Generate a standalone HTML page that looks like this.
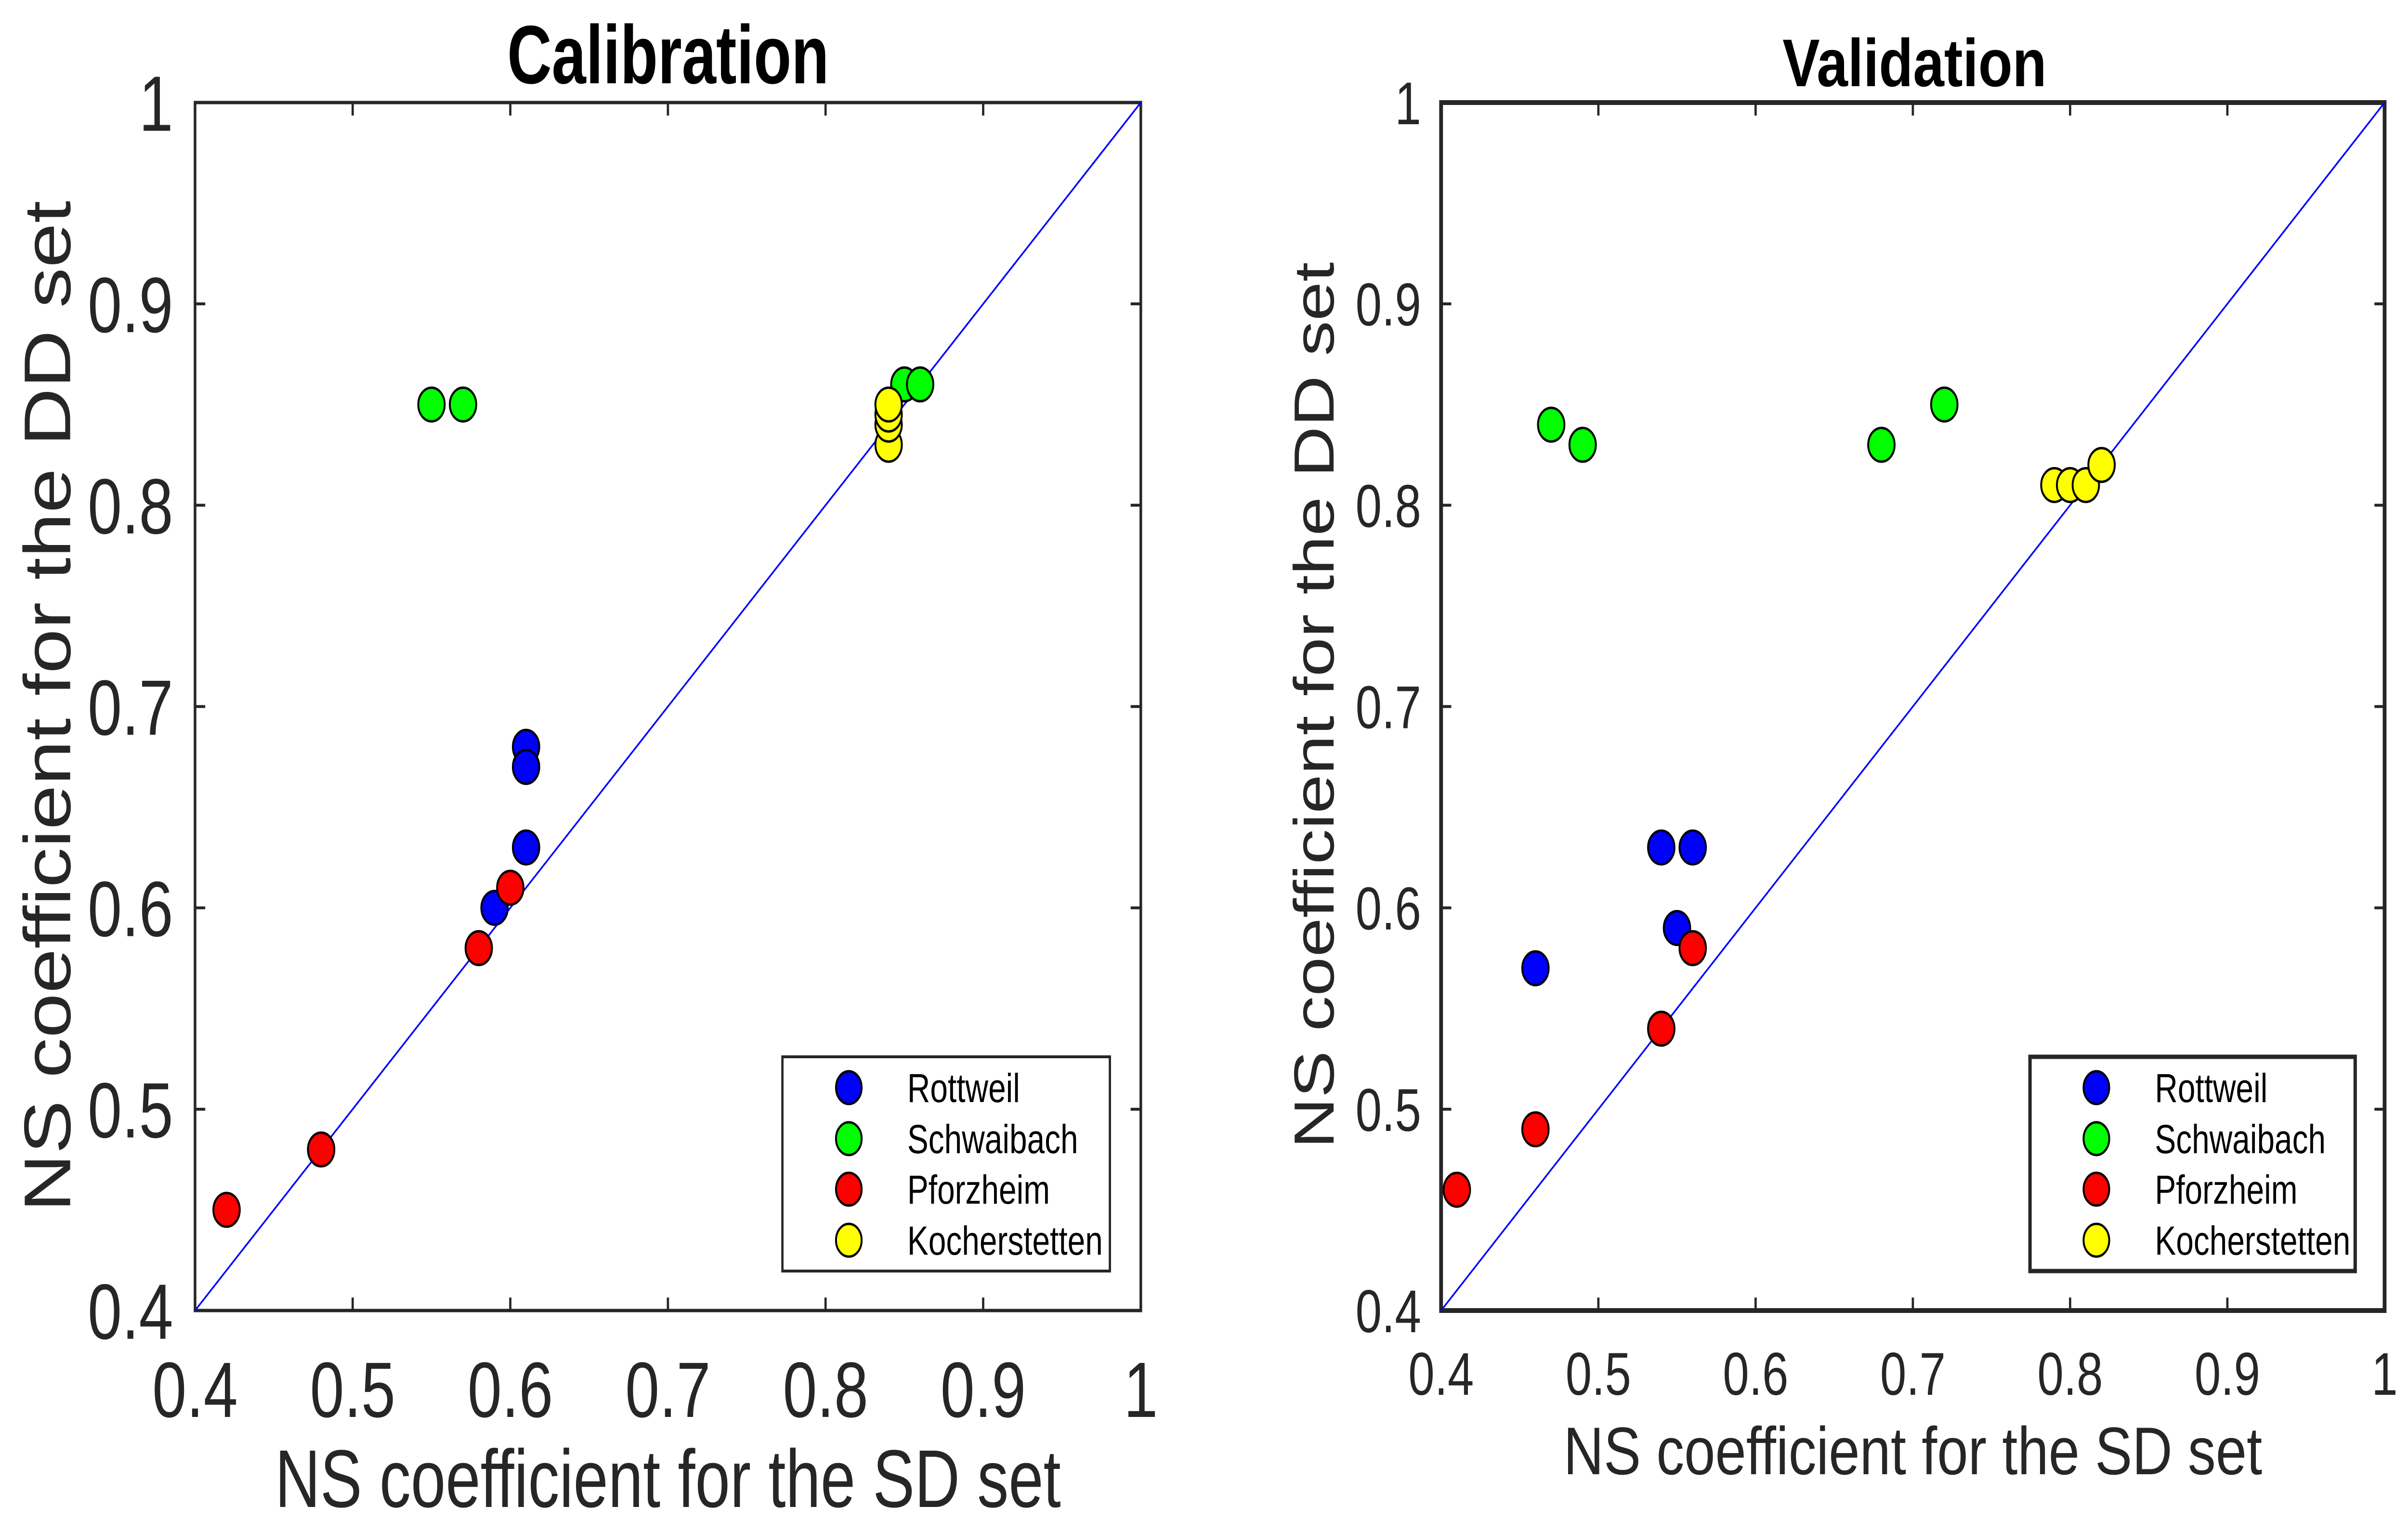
<!DOCTYPE html>
<html><head><meta charset="utf-8"><style>html,body{margin:0;padding:0;background:#fff;overflow:hidden;width:100%;height:100%}svg{display:block;width:100vw;height:100vh}</style></head>
<body>
<svg id="fig" xmlns="http://www.w3.org/2000/svg" viewBox="0 0 6383 3182" preserveAspectRatio="none" font-family="'Liberation Sans', Arial, sans-serif">
<rect x="0" y="0" width="6383" height="3182" fill="#fff"/>
</svg>
<script>
const seriesNames = ["Rottweil","Schwaibach","Pforzheim","Kocherstetten"];
const seriesColors = ["#0000ff","#00ff00","#ff0000","#ffff00"];
const tickValues = [0.4,0.5,0.6,0.7,0.8,0.9,1];
const tickLabels = ["0.4","0.5","0.6","0.7","0.8","0.9","1"];
const calX = [[0.61,0.61,0.61,0.59],[0.55,0.57,0.85,0.86],[0.42,0.48,0.58,0.60],[0.84,0.84,0.84,0.84]];
const calY = [[0.68,0.67,0.63,0.60],[0.85,0.85,0.86,0.86],[0.45,0.48,0.58,0.61],[0.83,0.84,0.845,0.85]];
const valX = [[0.46,0.54,0.56,0.55],[0.47,0.49,0.68,0.72],[0.41,0.46,0.54,0.56],[0.79,0.80,0.81,0.82]];
const valY = [[0.57,0.63,0.63,0.59],[0.84,0.83,0.83,0.85],[0.46,0.49,0.54,0.58],[0.81,0.81,0.81,0.82]];

const NS="http://www.w3.org/2000/svg";
const svg=document.getElementById('fig');
function mk(tag,attrs,parent,text){const e=document.createElementNS(NS,tag);for(const k in attrs)e.setAttribute(k,attrs[k]);if(text!==undefined)e.textContent=text;(parent||svg).appendChild(e);return e;}

function panel(cfg){
  const g=mk('g',{});
  
  
  const sx=v=>cfg.x0+(v-0.4)/0.6*(cfg.x1-cfg.x0);
  const sy=v=>cfg.y1-(v-0.4)/0.6*(cfg.y1-cfg.y0);
  const fr=mk('rect',{x:cfg.x0,y:cfg.y0,width:cfg.x1-cfg.x0,height:cfg.y1-cfg.y0,fill:'#fff',stroke:'#262626','stroke-width':cfg.fw},g);
  
  
  tickValues.forEach((v,i)=>{
    const X=sx(v),Y=sy(v);
    mk('line',{x1:X,y1:cfg.y1,x2:X,y2:cfg.y1-27,stroke:'#262626','stroke-width':6},g);
    mk('line',{x1:X,y1:cfg.y0,x2:X,y2:cfg.y0+27,stroke:'#262626','stroke-width':6},g);
    mk('line',{x1:cfg.x0,y1:Y,x2:cfg.x0+27,y2:Y,stroke:'#262626','stroke-width':6},g);
    mk('line',{x1:cfg.x1,y1:Y,x2:cfg.x1-27,y2:Y,stroke:'#262626','stroke-width':6},g);
    const xt=mk('text',{x:X,y:cfg.xtBase,'font-size':cfg.tf,fill:'#262626','text-anchor':'middle'},g,tickLabels[i]);
    
    
    const yt=mk('text',{x:cfg.ytRight,y:Y+cfg.tf*0.36,'font-size':cfg.tf,fill:'#262626','text-anchor':'end'},g,tickLabels[i]);
    
    
  });
  const d=mk('line',{x1:sx(0.4),y1:sy(0.4),x2:sx(1),y2:sy(1),stroke:'#0000ff','stroke-width':4},g);
  
  
  for(let s=0;s<seriesNames.length;s++){
    for(let j=0;j<cfg.xs[s].length;j++){
      const c=mk('circle',{cx:sx(cfg.xs[s][j]),cy:sy(cfg.ys[s][j]),r:35,fill:seriesColors[s],stroke:'#000','stroke-width':5},g);
      
      
    }
  }
  const lg=mk('g',{},g);
  
  
  mk('rect',{x:cfg.lx,y:2195,width:cfg.lw,height:445,fill:'#fff',stroke:'#262626','stroke-width':cfg.lfw},lg);
  const rows=[2259,2365,2470,2576];
  seriesNames.forEach((n,i)=>{
    const e=mk('g',{},lg);
    
    
    mk('circle',{cx:cfg.lx+176,cy:rows[i],r:34,fill:seriesColors[i],stroke:'#000','stroke-width':5},e);
    mk('text',{x:cfg.lx+331,y:rows[i]+30,'font-size':84,fill:'#000'},e,n);
  });
  const t=mk('text',{x:cfg.tx,y:cfg.tBase,'font-size':cfg.ttf,'font-weight':'bold',fill:'#000','text-anchor':'middle',textLength:cfg.tLen,lengthAdjust:'spacingAndGlyphs'},g,cfg.title);
  
  
  const xl=mk('text',{x:(cfg.x0+cfg.x1)/2,y:cfg.xlBase,'font-size':cfg.lf,fill:'#262626','text-anchor':'middle',textLength:cfg.xlLen,lengthAdjust:'spacingAndGlyphs'},g,'NS coefficient for the SD set');
  
  
  const yl=mk('text',{x:0,y:0,'font-size':cfg.ylf,fill:'#262626','text-anchor':'middle',textLength:cfg.ylLen,lengthAdjust:'spacingAndGlyphs',transform:`translate(${cfg.ylBase},${cfg.ylC}) rotate(-90)`},g,'NS coefficient for the DD set');
  
  
}

panel({name:'calibration-panel',x0:517,x1:3024,y0:213,y1:2722,fw:7,xs:calX,ys:calY,tf:163,xtBase:2943,ytRight:459,
  lx:2074,lw:868,lfw:6,title:'Calibration',tx:1771,tBase:173,ttf:172,tLen:853,
  lf:170,xlBase:3130,xlLen:2083,ylf:175,ylLen:2100,ylBase:186,ylC:1467});
panel({name:'validation-panel',x0:3820,x1:6321,y0:213,y1:2722,fw:10,xs:valX,ys:valY,tf:125,xtBase:2897,ytRight:3767,
  lx:5381,lw:862,lfw:9,title:'Validation',tx:5075,tBase:179,ttf:140,tLen:700,
  lf:140,xlBase:3062,xlLen:1852,ylf:150,ylLen:1841,ylBase:3535,ylC:1465});
</script>
</body></html>
